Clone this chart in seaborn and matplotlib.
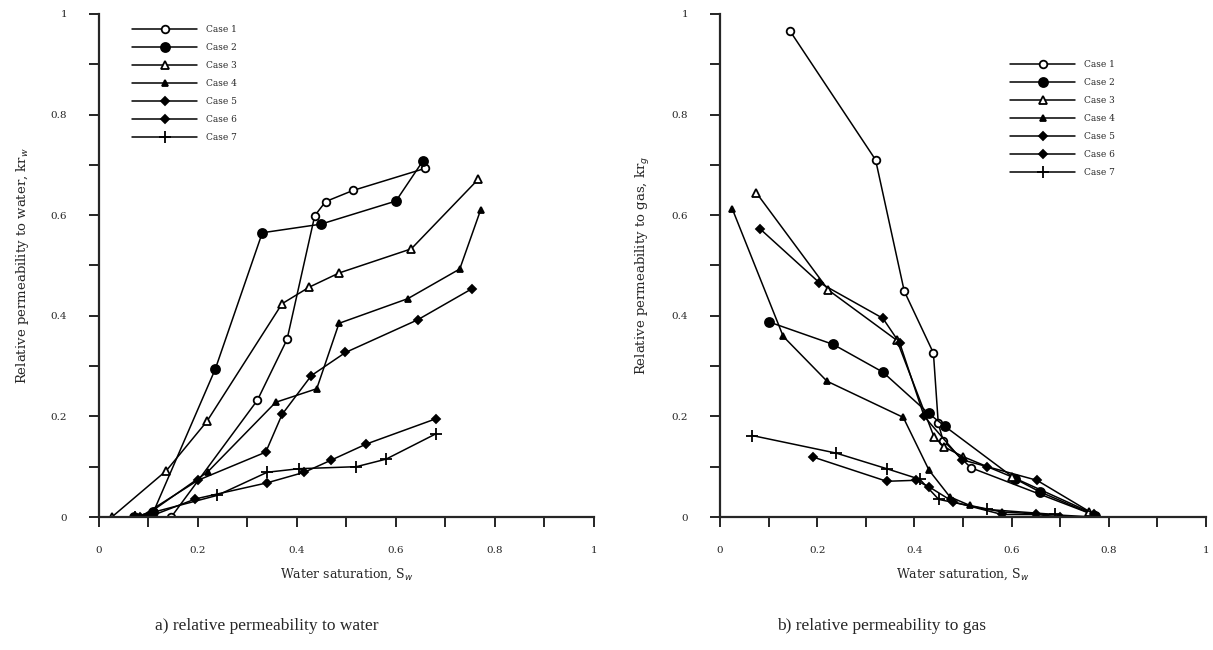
import numpy as np
import pandas as pd
import matplotlib
matplotlib.use('Agg')
import matplotlib.pyplot as plt
import seaborn as sns

sns.set_style('ticks')
plt.rcParams['font.family'] = ['DejaVu Serif']

cases = ['Case 1', 'Case 2', 'Case 3', 'Case 4', 'Case 5', 'Case 6', 'Case 7']

# a) relative permeability to water
water_sw = {
    'Case 1': [0.146, 0.32, 0.38, 0.436, 0.458, 0.513, 0.659],
    'Case 2': [0.07, 0.11, 0.235, 0.33, 0.448, 0.60, 0.654],
    'Case 3': [0.026, 0.136, 0.218, 0.37, 0.425, 0.485, 0.631, 0.766],
    'Case 4': [0.09, 0.22, 0.357, 0.44, 0.485, 0.624, 0.729, 0.771],
    'Case 5': [0.10, 0.195, 0.34, 0.415, 0.469, 0.54, 0.68],
    'Case 6': [0.083, 0.20, 0.337, 0.37, 0.429, 0.498, 0.644, 0.754],
    'Case 7': [0.073, 0.239, 0.34, 0.404, 0.52, 0.58, 0.68],
}
water_kr = {
    'Case 1': [0.0, 0.232, 0.353, 0.599, 0.627, 0.649, 0.693],
    'Case 2': [0.0, 0.01, 0.294, 0.565, 0.582, 0.628, 0.707],
    'Case 3': [0.0, 0.092, 0.19, 0.424, 0.457, 0.485, 0.533, 0.671],
    'Case 4': [0.0, 0.09, 0.228, 0.255, 0.385, 0.434, 0.493, 0.61],
    'Case 5': [0.0, 0.036, 0.068, 0.089, 0.113, 0.145, 0.195],
    'Case 6': [0.0, 0.073, 0.129, 0.204, 0.281, 0.327, 0.392, 0.454],
    'Case 7': [0.0, 0.043, 0.089, 0.096, 0.10, 0.115, 0.165],
}

# b) relative permeability to gas
gas_sw = {
    'Case 1': [0.144, 0.32, 0.379, 0.439, 0.449, 0.459, 0.516, 0.772],
    'Case 2': [0.10, 0.233, 0.335, 0.429, 0.463, 0.607, 0.658, 0.772],
    'Case 3': [0.075, 0.223, 0.364, 0.44, 0.46, 0.50, 0.60, 0.76],
    'Case 4': [0.025, 0.13, 0.22, 0.377, 0.43, 0.473, 0.514, 0.58, 0.77],
    'Case 5': [0.192, 0.343, 0.403, 0.43, 0.48, 0.58, 0.65, 0.70],
    'Case 6': [0.082, 0.204, 0.335, 0.37, 0.42, 0.497, 0.55, 0.652, 0.77],
    'Case 7': [0.066, 0.239, 0.343, 0.411, 0.45, 0.55, 0.69],
}
gas_kr = {
    'Case 1': [0.966, 0.71, 0.449, 0.326, 0.186, 0.152, 0.098, 0.003],
    'Case 2': [0.388, 0.343, 0.288, 0.206, 0.18, 0.076, 0.05, 0.003],
    'Case 3': [0.644, 0.451, 0.351, 0.16, 0.14, 0.12, 0.08, 0.01],
    'Case 4': [0.613, 0.359, 0.27, 0.198, 0.093, 0.04, 0.023, 0.01, 0.0],
    'Case 5': [0.119, 0.071, 0.073, 0.06, 0.03, 0.005, 0.005, 0.0],
    'Case 6': [0.573, 0.466, 0.395, 0.345, 0.20, 0.114, 0.10, 0.073, 0.005],
    'Case 7': [0.162, 0.127, 0.096, 0.075, 0.035, 0.015, 0.005],
}

marker_style = {
    'Case 1': dict(marker='o', mfc='white', ms=5.5),
    'Case 2': dict(marker='o', mfc='black', ms=6.5),
    'Case 3': dict(marker='^', mfc='white', ms=5.5),
    'Case 4': dict(marker='^', mfc='black', ms=4.5),
    'Case 5': dict(marker='D', mfc='black', ms=4),
    'Case 6': dict(marker='D', mfc='black', ms=4.5),
    'Case 7': dict(marker='+', mfc='black', ms=8),
}


def draw(ax, sw, kr, ylabel, legend_loc):
    for c in cases:
        df = pd.DataFrame({'sw': sw[c], 'kr': kr[c]})
        sns.lineplot(data=df, x='sw', y='kr', ax=ax, color='black', lw=1.1,
                     sort=False, estimator=None, label=c, mec='black',
                     mew=1.3, **marker_style[c])
    ax.set_xlim(0, 1)
    ax.set_ylim(0, 1)
    ax.set_xticks(np.arange(0, 1.01, 0.2))
    ax.set_yticks(np.arange(0, 1.01, 0.2))
    ax.set_xticks(np.arange(0, 1.01, 0.1), minor=True)
    ax.set_yticks(np.arange(0, 1.01, 0.1), minor=True)
    lab = ['0', '0.2', '0.4', '0.6', '0.8', '1']
    ax.set_xticklabels(lab, fontsize=7.5)
    ax.set_yticklabels(lab, fontsize=7.5)
    ax.tick_params(which='both', direction='out', length=7, width=1.2,
                   color='black')
    ax.tick_params(axis='x', which='major', pad=14)
    ax.tick_params(axis='y', which='major', pad=16)
    sns.despine(ax=ax)
    for s in ['left', 'bottom']:
        ax.spines[s].set_linewidth(1.6)
    ax.set_xlabel('Water saturation, S$_w$', fontsize=9, labelpad=8)
    ax.set_ylabel(ylabel, fontsize=9.5, labelpad=14)
    ax.legend(loc='upper left', bbox_to_anchor=legend_loc, frameon=False,
              fontsize=6.5, handlelength=7.2, labelspacing=1.0,
              handletextpad=1.0, borderaxespad=0)


fig = plt.figure(figsize=(12.13, 6.5), dpi=100)
ax1 = fig.add_axes([0.0816, 0.2046, 0.408, 0.774])
ax2 = fig.add_axes([0.5936, 0.2046, 0.4007, 0.774])

draw(ax1, water_sw, water_kr, 'Relative permeability to water, kr$_w$',
     (0.06, 0.985))
draw(ax2, gas_sw, gas_kr, 'Relative permeability to gas, kr$_g$',
     (0.59, 0.915))

fig.text(0.22, 0.03, 'a) relative permeability to water', ha='center',
         fontsize=12.5, family='Liberation Serif')
fig.text(0.727, 0.03, 'b) relative permeability to gas', ha='center',
         fontsize=12.5, family='Liberation Serif')

fig.savefig('out.png', dpi=100)
